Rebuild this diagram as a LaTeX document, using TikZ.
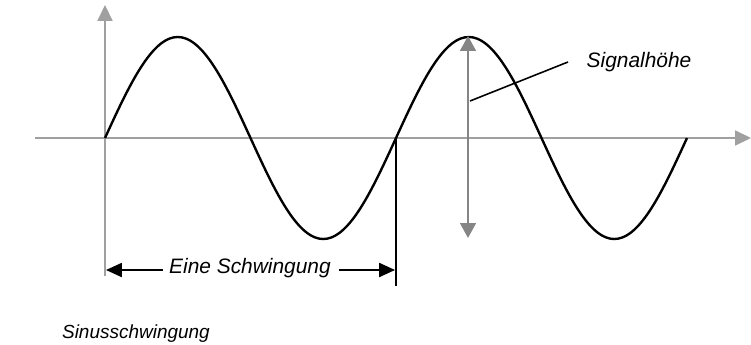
\documentclass[tikz,border=0pt]{standalone}
\usepackage{fontspec}
\setmainfont{Liberation Sans}
\usepackage{xcolor}
\usetikzlibrary{arrows.meta, positioning}

\definecolor{axisgray}{HTML}{A0A0A0}
\definecolor{markgray}{HTML}{858585}

\begin{document}
\begin{tikzpicture}[
    x=0.02cm, y=-0.02cm,
    every node/.style={font=\fontsize{11.9}{14}\selectfont\itshape, inner sep=1pt},
    axis/.style={axisgray, line width=0.9pt, -{Triangle[length=9pt, width=8.5pt]}},
    wave/.style={black, line width=1.35pt, line join=round},
    height/.style={markgray, line width=1.1pt, {Triangle[length=8.5pt, width=9pt]}-{Triangle[length=8.5pt, width=9pt]}},
    span/.style={black, line width=0.9pt, -{Triangle[length=9pt, width=8pt]}}
]
    \useasboundingbox (0,0) rectangle (751,345);

    % axes
    \coordinate (origin) at (105,138);
    \coordinate (xstart) at (35,138);
    \coordinate (xend) at (751,138);
    \coordinate (ytop) at (105,5);
    \coordinate (ybottom) at (105,276);
    \draw[axis] (xstart) -- (xend);
    \draw[axisgray, line width=0.9pt] (ybottom) -- (origin);
    \draw[axis] (origin) -- (ytop);

    % two periods of the sine
    \draw[wave] plot[domain=0:720, samples=145, smooth] ({105+(\x/360)*291}, {138-101*sin(\x)});

    % one period
    \coordinate (period) at (396,138);
    \coordinate (periodend) at (396,286);
    \draw[black, line width=0.9pt] (period) -- (periodend);
    \node (eine) at (250,268) {Eine Schwingung};
    \coordinate (spanleft) at (106,270);
    \coordinate (spanright) at (395,270);
    \draw[span] (eine.west) ++(-4,2) -- (spanleft);
    \draw[span] (eine.east) ++(6,2) -- (spanright);

    % signal height
    \coordinate (peak) at (468,36);
    \coordinate (trough) at (468,238);
    \draw[height] (trough) -- (peak);
    \node (hoehe) at (639,62) {Signalh\"ohe};
    \coordinate (leader) at (470,101);
    \draw[black, line width=0.9pt] (leader) -- (568,62);

    \node[anchor=west, font=\fontsize{10.8}{13}\selectfont\itshape] (title) at (60,334) {Sinusschwingung};
\end{tikzpicture}
\end{document}
